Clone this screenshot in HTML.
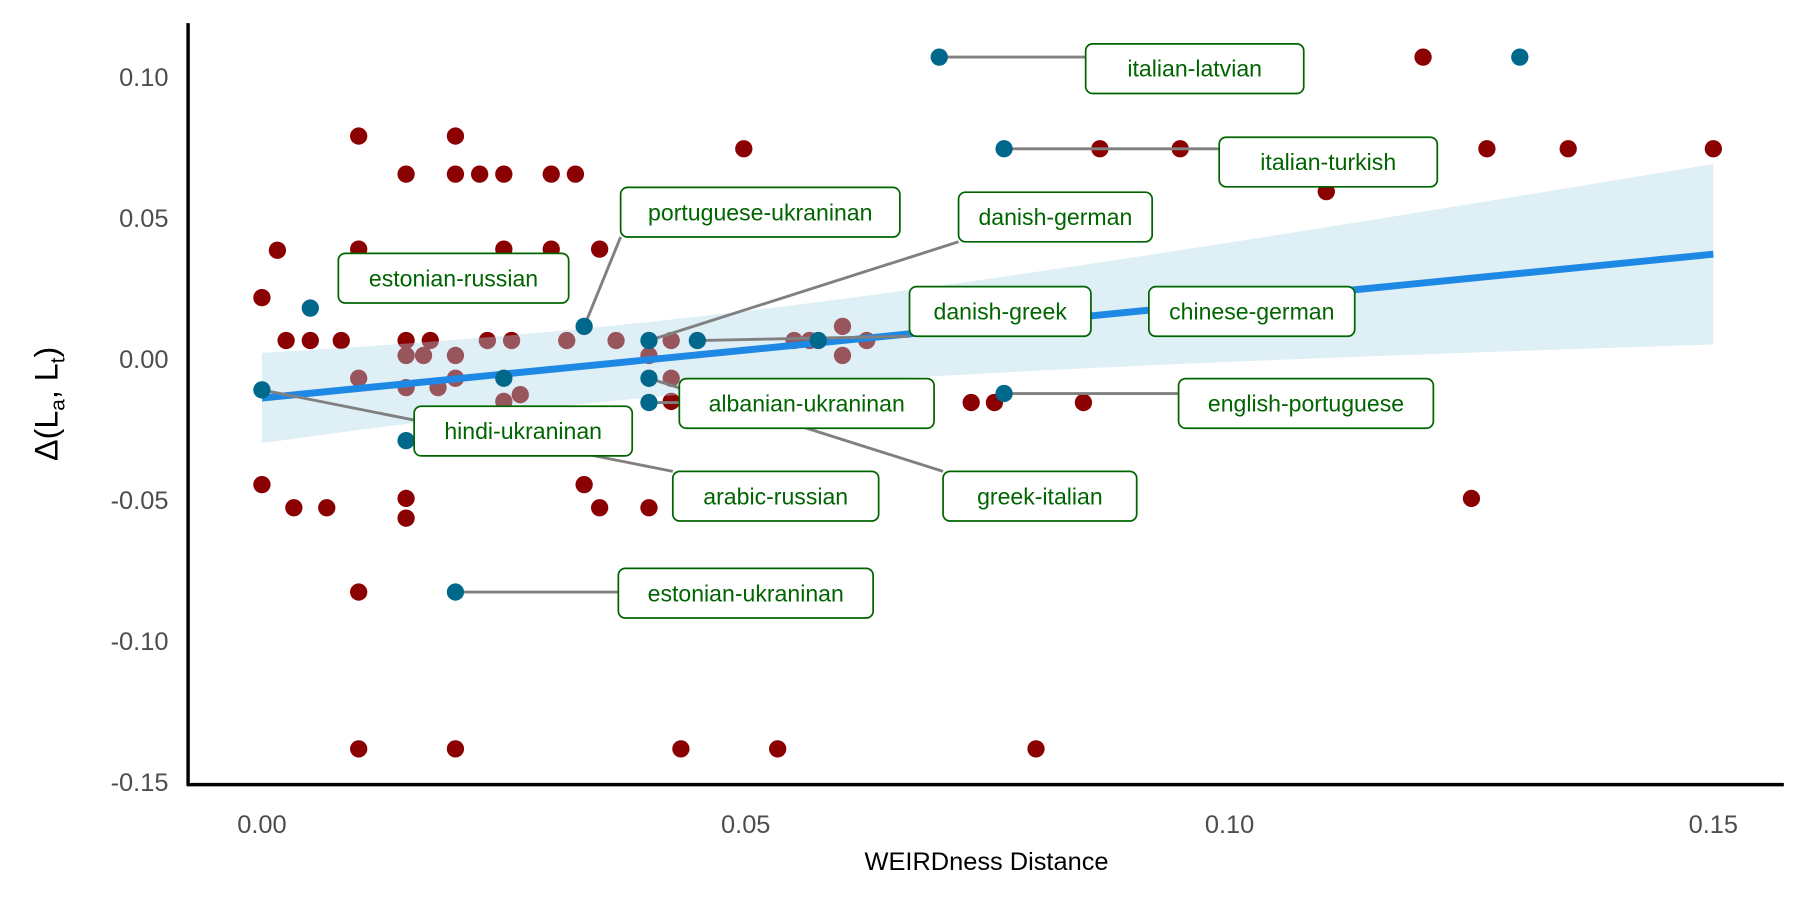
<!DOCTYPE html>
<html><head><meta charset="utf-8"><style>
html,body{margin:0;padding:0;background:#fff;}
svg{display:block;font-family:"Liberation Sans",sans-serif;}
</style></head><body>
<svg id="chart" width="1800" height="900" viewBox="0 0 1560 780" xmlns="http://www.w3.org/2000/svg">
<g id="pts-g"></g>
<g id="fit-g"></g>
<g id="lab-g"></g>
<g id="axes-g"></g>
</svg>
<script>
const redX=[0,.0016,.0025,0,.0033,.0067,.005,.0082,.010,.010,.010,.010,.010,.0149,.0149,.0149,.0149,.0149,.0149,.0167,.0174,.0182,.020,.020,.020,.020,.020,.0225,.0233,.025,.025,.025,.0258,.0267,.0299,.0299,.0315,.0324,.0333,.0349,.0349,.0366,.040,.040,.0423,.0423,.0423,.0433,.0498,.0533,.055,.0566,.060,.060,.0625,.0733,.0757,.080,.0849,.0866,.0949,.110,.120,.1266,.135,.125,.150];
const redY=[.0217,.0385,.0065,-.0446,-.0528,-.0528,.0065,.0065,.079,.0389,-.0069,-.0827,-.1383,.0655,.0065,.0012,-.0102,-.0495,-.0565,.0012,.0065,-.0102,.079,.0655,-.1383,.0012,-.0069,.0655,.0065,.0655,.0389,-.0151,.0065,-.0127,.0655,.0389,.0065,.0655,-.0446,.0389,-.0528,.0065,.0012,-.0528,.0065,-.0151,-.0069,-.1383,.0745,-.1383,.0065,.0065,.0012,.0115,.0065,-.0155,-.0155,-.1383,-.0155,.0745,.0745,.0593,.107,.0745,.0745,-.0495,.0745];
const blueX=[0,.005,.0149,.025,.0333,.040,.040,.040,.045,.0575,.070,.0767,.0767,.020,.130];
const blueY=[-.011,.018,-.029,-.0069,.0115,.0065,-.0069,-.0155,.0065,.0065,.107,.0745,-.0123,-.0827,.107];
const labelText=["italian-latvian","italian-turkish","portuguese-ukraninan","danish-german","estonian-russian","danish-greek","chinese-german","albanian-ukraninan","english-portuguese","hindi-ukraninan","arabic-russian","greek-italian","estonian-ukraninan"];
const labelX=[.0964,.1102,.0515,.082,.0198,.0763,.1023,.0563,.1079,.027,.0531,.0804,.050];
const labelY=[.1029,.0698,.052,.0503,.0286,.0168,.0168,-.0158,-.0158,-.0256,-.0487,-.0487,-.0831];
const labelSrc=[10,11,4,5,-1,8,-1,7,12,-1,0,6,13];
const xTicks=[0,.05,.10,.15], xTickLab=["0.00","0.05","0.10","0.15"];
const yTicks=[.10,.05,0,-.05,-.10,-.15], yTickLab=["0.10","0.05","0.00","-0.05","-0.10","-0.15"];
const fitIntercept=-.0139, fitSlope=.34;
const NS="http://www.w3.org/2000/svg";
const sx=v=>227+v*8386, sy=v=>311-v*2444;
function mk(tag,attrs,parent){const e=document.createElementNS(NS,tag);for(const k in attrs)e.setAttribute(k,attrs[k]);parent.appendChild(e);return e;}
const ptsG=document.getElementById('pts-g');
redX.forEach((x,i)=>{const c=mk('circle',{cx:sx(x),cy:sy(redY[i]),r:7.5,fill:'#8b0000'},ptsG);

});
const fitG=document.getElementById('fit-g');
let up=[],dn=[];for(let k=0;k<=30;k++){const x=.15*k/30;const h=Math.sqrt(1.776e-4+0.064*(x-.035)**2);const m=fitIntercept+fitSlope*x;up.push(sx(x)+','+sy(m+h));dn.unshift(sx(x)+','+sy(m-h));}
const band=mk('polygon',{points:up.concat(dn).join(' '),fill:'#add8e6','fill-opacity':0.4},fitG);


const fl=mk('line',{x1:sx(0),y1:sy(fitIntercept),x2:sx(.15),y2:sy(fitIntercept+fitSlope*.15),stroke:'#1e88e5','stroke-width':6},fitG);


const labG=document.getElementById('lab-g');
const bw=t=>t.length*10.6+30, bh=43;
labelText.forEach((t,i)=>{
 const cx=sx(labelX[i]),cy=sy(labelY[i]);const w=bw(t);
 if(labelSrc[i]>=0){const s=labelSrc[i];const px=sx(blueX[s]),py=sy(blueY[s]);
  const tx=Math.max(cx-w/2,Math.min(px,cx+w/2)),ty=Math.max(cy-bh/2,Math.min(py,cy+bh/2));
  const l=mk('line',{x1:px,y1:py,x2:tx,y2:ty,stroke:'#808080','stroke-width':2.5},fitG);
  
  }
});
blueX.forEach((x,i)=>{const c=mk('circle',{cx:sx(x),cy:sy(blueY[i]),r:7.5,fill:'#00688b'},fitG);

});
labelText.forEach((t,i)=>{
 const cx=sx(labelX[i]),cy=sy(labelY[i]);const w=bw(t);
 const g=mk('g',{},labG);
 
 
 mk('rect',{x:cx-w/2,y:cy-bh/2,width:w,height:bh,rx:6,fill:'#fff',stroke:'#006400','stroke-width':1.5},g);
 const tx=mk('text',{x:cx,y:cy+7,'text-anchor':'middle','font-size':20,fill:'#006400'},g);tx.textContent=t;
});
const ax=document.getElementById('axes-g');
mk('line',{x1:163,y1:20,x2:163,y2:681,stroke:'#000','stroke-width':3},ax);
mk('line',{x1:162,y1:680,x2:1546,y2:680,stroke:'#000','stroke-width':3},ax);
xTicks.forEach((v,i)=>{const t=mk('text',{x:sx(v),y:722,'text-anchor':'middle','font-size':22,fill:'#4d4d4d'},ax);t.textContent=xTickLab[i];

});
yTicks.forEach((v,i)=>{const t=mk('text',{x:146,y:sy(v)+8,'text-anchor':'end','font-size':22,fill:'#4d4d4d'},ax);t.textContent=yTickLab[i];

});
const xt=mk('text',{x:855,y:754,'text-anchor':'middle','font-size':22,fill:'#000'},ax);xt.textContent='WEIRDness Distance';


const yt=mk('text',{x:0,y:0,'text-anchor':'middle','font-size':28,fill:'#000',transform:'translate(50,350) rotate(-90)'},ax);
yt.innerHTML='Δ(L<tspan font-size="18" dy="6">a</tspan><tspan dy="-6">, L</tspan><tspan font-size="18" dy="6">t</tspan><tspan dy="-6">)</tspan>';


</script>
</body></html>
